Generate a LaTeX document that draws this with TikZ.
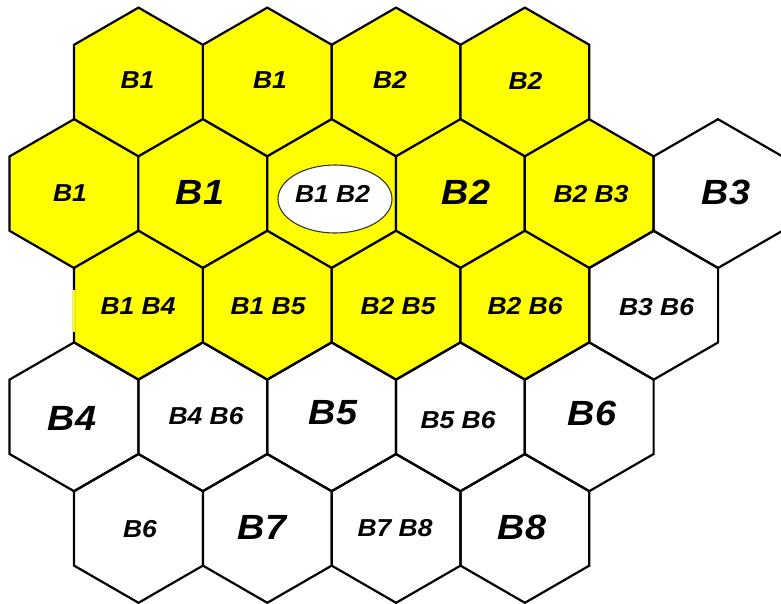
\documentclass[tikz,border=0pt]{standalone}
\usepackage{fontspec}
\setmainfont{Liberation Sans}
\newfontfamily\cellfont[FakeStretch=1.08]{Liberation Sans}
\usetikzlibrary{shapes.geometric}
\definecolor{cellyellow}{RGB}{255,255,0}
\begin{document}
\begin{tikzpicture}[x=1pt,y=-1pt,
  hexcell/.style={regular polygon, regular polygon sides=6, shape border rotate=30,
    minimum size=148.8pt, inner sep=0pt, outer sep=0pt, draw=black, line width=2.2pt},
  lit/.style={hexcell, fill=cellyellow},
  dark/.style={hexcell},
  smalllbl/.style={inner sep=0pt, font=\cellfont\fontsize{24.5}{28}\selectfont\bfseries\itshape},
  biglbl/.style={inner sep=0pt, font=\cellfont\fontsize{35}{40}\selectfont\bfseries\itshape},
  oval/.style={ellipse, draw=black!80, line width=1.1pt, fill=white, minimum width=114pt, minimum height=68pt, inner sep=0pt}]
\useasboundingbox (0,0) rectangle (781,603);
% row 1
\node[lit] (h11) at (138.5,82) {};
\node[lit] (h12) at (267.3,82) {};
\node[lit] (h13) at (396.1,82) {};
\node[lit] (h14) at (524.9,82) {};
% row 2
\node[lit] (h21) at (74,193.6) {};
\node[lit] (h22) at (202.8,193.6) {};
\node[lit] (h23) at (331.6,193.6) {};
\node[lit] (h24) at (460.4,193.6) {};
\node[lit] (h25) at (589.2,193.6) {};
\node[dark] (h26) at (718,193.6) {};
% row 3
\node[lit] (h31) at (138.5,305.2) {};
\node[lit] (h32) at (267.3,305.2) {};
\node[lit] (h33) at (396.1,305.2) {};
\node[lit] (h34) at (524.9,305.2) {};
\node[dark] (h35) at (653.7,305.2) {};
% row 4
\node[dark] (h41) at (74,416.8) {};
\node[dark] (h42) at (202.8,416.8) {};
\node[dark] (h43) at (331.6,416.8) {};
\node[dark] (h44) at (460.4,416.8) {};
\node[dark] (h45) at (589.2,416.8) {};
% row 5
\node[dark] (h51) at (138.5,528.4) {};
\node[dark] (h52) at (267.3,528.4) {};
\node[dark] (h53) at (396.1,528.4) {};
\node[dark] (h54) at (524.9,528.4) {};
% gap in the left edge of the B1 B4 cell
\draw[cellyellow, line width=2.3pt] ([yshift=15pt]h31.west) -- ([yshift=-27pt]h31.west);
% white oval
\node[oval] (ov) at (335,199) {};
% labels
\node[smalllbl] (t11) at (137.5,80) {B1};
\node[smalllbl] (t12) at (270,80.5) {B1};
\node[smalllbl] (t13) at (390,80) {B2};
\node[smalllbl] (t14) at (525.5,80.5) {B2};
\node[smalllbl] (t21) at (70,193) {B1};
\node[biglbl] (t22) at (200,192.5) {B1};
\node[smalllbl] (t23) at (332.5,193.5) {B1 B2};
\node[biglbl] (t24) at (466,192) {B2};
\node[smalllbl] (t25) at (591,194) {B2 B3};
\node[biglbl] (t26) at (726,192) {B3};
\node[smalllbl] (t31) at (138,306) {B1 B4};
\node[smalllbl] (t32) at (268,306) {B1 B5};
\node[smalllbl] (t33) at (398,306) {B2 B5};
\node[smalllbl] (t34) at (525,306) {B2 B6};
\node[smalllbl] (t35) at (656.5,307) {B3 B6};
\node[biglbl] (t41) at (72,418) {B4};
\node[smalllbl] (t42) at (206,416) {B4 B6};
\node[biglbl] (t43) at (333,413) {B5};
\node[smalllbl] (t44) at (458,420) {B5 B6};
\node[biglbl] (t45) at (592,413) {B6};
\node[smalllbl] (t51) at (140,529) {B6};
\node[biglbl] (t52) at (262,527.5) {B7};
\node[smalllbl] (t53) at (395,528) {B7 B8};
\node[biglbl] (t54) at (522,527.5) {B8};
\end{tikzpicture}
\end{document}
